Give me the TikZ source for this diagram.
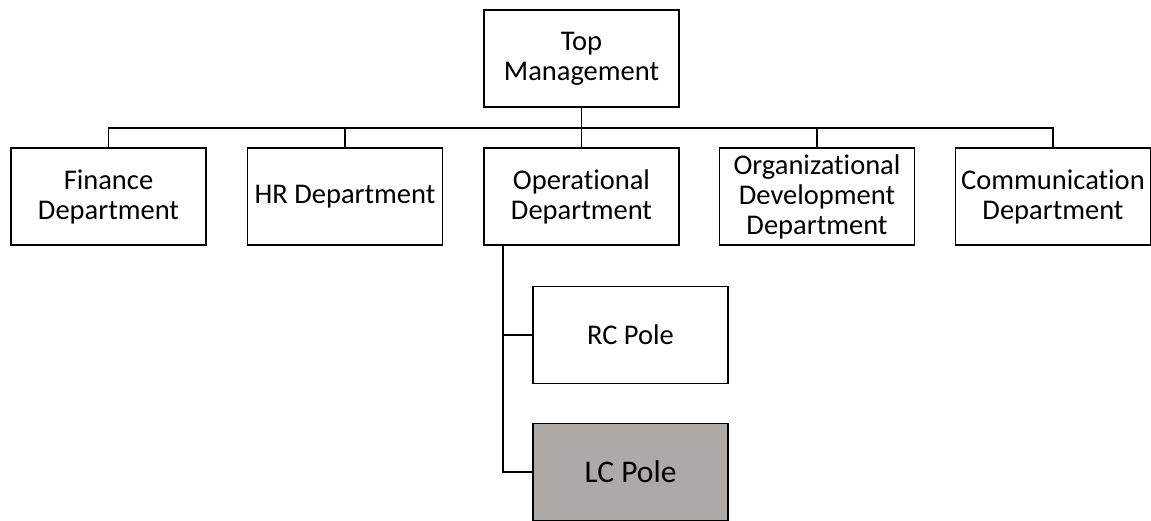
\documentclass[tikz,border=0pt]{standalone}
\usepackage{fontspec}
\setmainfont{Carlito}[Ligatures={NoCommon,NoContextual}]
\definecolor{polegray}{RGB}{173,169,167}
\begin{document}
\begin{tikzpicture}[x=1pt,y=1pt,line width=1.2pt,
  unit/.style={draw, minimum width=195pt, minimum height=97pt, inner sep=0pt,
               align=center, font=\fontsize{28.5}{30}\selectfont}]
\useasboundingbox (0,0) rectangle (1151,-521);
\node[unit] (top)  at (581.5,-58.5)  {Top\\Management};
\node[unit] (fin)  at (108.5,-196.5) {Finance\\Department};
\node[unit] (hr)   at (345,-196.5)   {HR Department};
\node[unit] (op)   at (581.5,-196.5) {Operational\\Department};
\node[unit] (org)  at (817,-196.5)   {Organizational\\Development\\Department};
\node[unit] (comm) at (1053,-196.5)  {Communication\\Department};
\node[unit] (rc)   at (630.5,-335)   {RC Pole};
\node[unit, fill=polegray, font=\fontsize{31.5}{33}\selectfont] (lc) at (630.5,-472) {LC Pole};
\coordinate (bus) at (0,-128);
\coordinate (spine) at ([xshift=-78.5pt]op.south);
\draw (top.south) -- (top.south |- bus);
\draw (fin.north) |- (comm.north |- bus) -- (comm.north);
\foreach \n in {hr,op,org}
  \draw (\n.north) -- (\n.north |- bus);
\draw (spine) |- (lc.west);
\draw (rc.west) -- (spine |- rc.west);
\end{tikzpicture}
\end{document}
